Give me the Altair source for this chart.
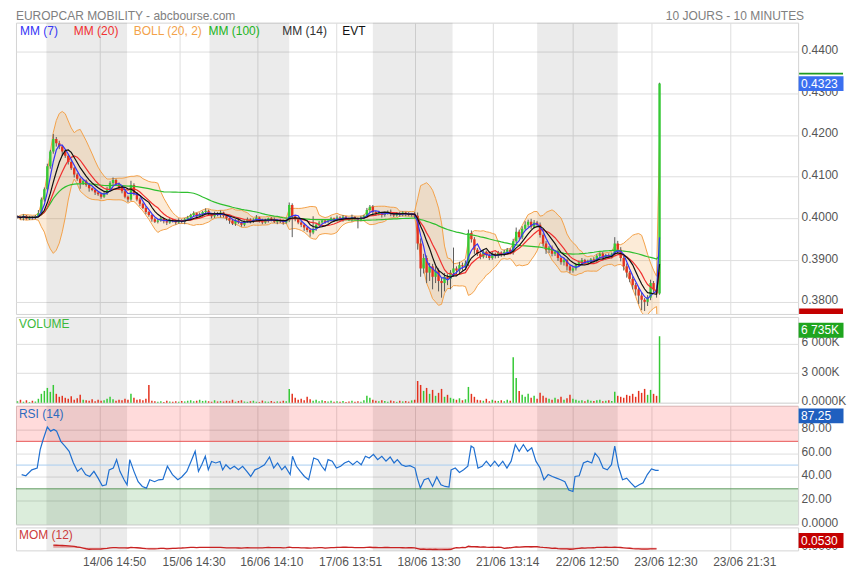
import json
import altair as alt
import pandas as pd

FONT = "Liberation Sans"

title_left = "EUROPCAR MOBILITY - abcbourse.com"
title_right = "10 JOURS - 10 MINUTES"
legend_items = ["MM (7)", "MM (20)", "BOLL (20, 2)", "MM (100)", "MM (14)", "EVT"]

# 10-minute closes (one candle every index step)
close = [
    0.4004, 0.4000, 0.4006, 0.3999, 0.4003, 0.4001, 0.4005, 0.4012,
    0.4045, 0.4070,
    0.4125, 0.4160, 0.4190, 0.4180, 0.4172, 0.4160,
    0.4150, 0.4135, 0.4120, 0.4105, 0.4095, 0.4085,
    0.4090, 0.4080, 0.4072, 0.4068, 0.4062,
    0.4058, 0.4052, 0.4060,
    0.4070, 0.4085, 0.4092, 0.4082, 0.4075,
    0.4065, 0.4052, 0.4045,
    0.4080,
    0.4060, 0.4045, 0.4035, 0.4025,
    0.4015, 0.4008, 0.3998, 0.3992,
    0.3995, 0.4000, 0.3993, 0.3990, 0.3997, 0.3994,
    0.3990, 0.3996, 0.3992, 0.3998, 0.4002,
    0.4008, 0.4012, 0.4005, 0.4010, 0.4015,
    0.4018, 0.4010, 0.4005, 0.4012, 0.4008, 0.4014, 0.4006,
    0.4000, 0.3995, 0.3988, 0.3995, 0.3990, 0.3985, 0.3992,
    0.3998, 0.3993, 0.3997, 0.4002, 0.3996, 0.3990, 0.3995, 0.4000, 0.3997, 0.3992, 0.3996, 0.3993, 0.3990, 0.3995,
    0.4032, 0.4005,
    0.3998, 0.3990, 0.3985, 0.3978, 0.3972, 0.3966, 0.3975,
    0.3985, 0.3990, 0.3995, 0.3992,
    0.3995, 0.4000, 0.3996, 0.4002, 0.3998, 0.4004, 0.4000, 0.3997, 0.4003, 0.4000, 0.3996, 0.4002, 0.4006,
    0.4020, 0.4028,
    0.4015, 0.4010, 0.4013, 0.4008, 0.4012, 0.4016, 0.4010, 0.4007, 0.4012, 0.4009, 0.4014, 0.4011, 0.4008, 0.4010, 0.4006,
    0.3940, 0.3880, 0.3905, 0.3870,
    0.3885, 0.3860, 0.3875, 0.3850, 0.3845, 0.3860, 0.3855,
    0.3870, 0.3880, 0.3875, 0.3888, 0.3885, 0.3892,
    0.3965, 0.3950, 0.3925,
    0.3915, 0.3908, 0.3920, 0.3912, 0.3905, 0.3915, 0.3910, 0.3918, 0.3912, 0.3920, 0.3925, 0.3918,
    0.3945, 0.3968, 0.3955,
    0.3975, 0.3985, 0.3992, 0.3980, 0.3990, 0.3985,
    0.3960, 0.3940, 0.3925,
    0.3930, 0.3915, 0.3920, 0.3905, 0.3895, 0.3900, 0.3885, 0.3875, 0.3880,
    0.3890, 0.3895, 0.3900, 0.3893, 0.3897, 0.3902, 0.3898,
    0.3910, 0.3915, 0.3905, 0.3912, 0.3908, 0.3915,
    0.3940, 0.3925,
    0.3905, 0.3885, 0.3870, 0.3855, 0.3840, 0.3830,
    0.3815, 0.3805, 0.3800, 0.3810,
    0.3845, 0.3830, 0.3820,
    0.4323,
]

# upper / lower wick lengths, in ticks of 0.0001
wick_up = [
    3, 2, 4, 2, 3, 2, 3, 8,
    5, 4,
    6, 4, 12, 5, 6, 4,
    5, 4, 6, 3, 4, 3,
    4, 3, 5, 2, 4,
    3, 4, 3,
    5, 4, 6, 3, 4,
    3, 4, 3,
    10,
    4, 3, 5, 3,
    4, 3, 2, 3,
    3, 4, 2, 3, 5, 2,
    3, 4, 2, 3, 4,
    3, 5, 2, 4, 3,
    6, 3, 2, 4, 3, 5, 2,
    3, 2, 4, 3, 5, 2, 3,
    4, 2, 3, 6, 2, 3, 4, 2, 3, 5, 2, 3, 4, 3,
    6, 4,
    3, 2, 4, 3, 2, 4, 30,
    3, 4, 2, 3,
    3, 4, 2, 5, 3, 4, 2, 3, 6, 2, 3, 4, 3,
    5, 4,
    4, 3, 5, 2, 4, 3, 5, 2, 3, 4, 3, 2, 4, 3, 5,
    8, 12, 10, 6,
    8, 6, 10, 5, 7, 9, 6,
    6, 50, 5, 8, 6, 7,
    8, 6, 5,
    4, 3, 5, 3, 4, 6, 3, 4, 3, 5, 4, 3,
    6, 10, 5,
    6, 8, 5, 7, 6, 4,
    5, 4, 6,
    4, 5, 3, 6, 4, 5, 3, 4, 5,
    3, 4, 5, 3, 4, 3, 5,
    4, 3, 5, 3, 4, 3,
    15, 6,
    6, 5, 7, 4, 6, 5,
    5, 7, 4, 6,
    8, 5, 4,
    2,
]
wick_dn = [
    4, 3, 5, 2, 3, 4, 3, 2,
    3, 5,
    4, 6, 5, 8, 6, 10,
    5, 6, 4, 7, 5, 14,
    5, 4, 8, 3, 6,
    4, 5, 3,
    4, 3, 5, 4, 6,
    5, 4, 6,
    3,
    5, 4, 6, 3,
    5, 4, 6, 3,
    4, 3, 5, 6, 3, 4,
    5, 3, 4, 6, 3,
    4, 3, 5, 3, 6,
    4, 3, 5, 4, 3, 6, 4,
    5, 8, 4, 6, 3, 5, 4,
    3, 5, 4, 3, 6, 4, 3, 5, 4, 3, 6, 4, 5, 3,
    4, 50,
    5, 4, 6, 8, 5, 10, 4,
    5, 3, 4, 5,
    4, 3, 5, 4, 3, 6, 4, 3, 5, 4, 20, 3, 4,
    3, 5,
    5, 4, 3, 6, 4, 3, 5, 4, 3, 5, 4, 6, 3, 4, 5,
    15, 20, 12, 25,
    20, 30, 15, 25, 35, 20, 15,
    25, 10, 12, 8, 10, 6,
    6, 8, 10,
    5, 6, 4, 7, 5, 4, 6, 5, 4, 3, 6, 4,
    5, 4, 6,
    5, 4, 6, 5, 4, 5,
    6, 8, 10,
    8, 6, 5, 7, 6, 8, 10, 6, 5,
    5, 4, 6, 4, 5, 3, 4,
    5, 4, 6, 4, 5, 4,
    4, 8,
    8, 10, 12, 8, 10, 15,
    20, 25, 22, 10,
    6, 8, 10,
    3,
]

# volume per candle, thousands of shares
volume_k = [
    150, 300, 100, 250, 80, 200, 120, 400,
    900, 1200,
    1500, 1100, 1800, 900, 600, 700,
    500, 400, 650, 300, 450, 800,
    300, 250, 200, 350, 150,
    300, 200, 250,
    400, 600, 350, 200, 300,
    250, 400, 300,
    900,
    500, 300, 350, 250,
    400, 1800, 200, 150,
    100, 150, 80, 200, 120, 90,
    150, 100, 180, 130, 200,
    250, 150, 200, 300, 180,
    220, 150, 100, 250, 130, 180, 120,
    200, 150, 300, 100, 180, 250, 120,
    90, 150, 200, 100, 80, 220, 130, 100, 180, 90, 140, 110, 200, 160,
    1400, 900,
    500, 300, 400, 250, 600, 350, 200,
    300, 150, 250, 180,
    120, 200, 90, 150, 100, 180, 80, 130, 200, 110, 150, 90, 250,
    700, 500,
    300, 200, 150, 250, 180, 100, 220, 150, 90, 200, 130, 170, 110, 240, 300,
    2200, 1800, 1200, 1500,
    900, 1300, 700, 1000, 1400, 600, 800,
    500, 400, 300, 450, 250, 350,
    1600, 900, 600,
    300, 250, 200, 400, 150, 300, 200, 180, 250, 150, 300, 200,
    4600, 2500, 1200,
    800, 600, 900, 500, 700, 400,
    1000, 700, 500,
    400, 300, 500, 350, 600, 300, 450, 800, 400,
    300, 200, 250, 150, 300, 200, 180,
    250, 300, 150, 200, 250, 180,
    1100, 700,
    600, 500, 800, 700, 900, 600,
    1200, 1000, 1400, 800,
    1300, 900, 700,
    6735,
]

# RSI (14): candle position and value
rsi_idx = [
    1.4, 2.8, 4.8, 6.6, 7.6, 8.6, 10.0, 11.1, 12.2, 13.1,
    14.5, 15.9, 17.3, 18.7, 20.1, 21.4, 22.8, 24.2, 25.6, 27.0,
    28.4, 29.7, 30.7, 32.1, 33.2, 34.3, 35.7, 36.7, 37.6, 39.0,
    40.4, 41.8, 43.2, 44.3, 45.9, 47.3, 48.7, 50.2, 51.9, 53.7,
    55.0, 56.7, 58.1, 59.5, 60.6, 61.7, 62.9, 63.9, 65.0, 66.4,
    67.8, 68.7, 69.8, 71.2, 72.6, 74.0, 75.4, 76.8, 78.1, 79.5,
    80.9, 82.7, 84.4, 85.8, 87.1, 88.5, 89.6, 91.3, 92.1, 93.4,
    94.7, 96.1, 97.5, 99.2, 100.6, 101.9, 103.0, 104.0, 105.4, 106.8,
    108.2, 109.5, 110.9, 112.3, 113.7, 115.1, 116.5, 117.8, 119.2, 120.6,
    122.0, 123.4, 124.8, 126.1, 127.2, 128.6, 130.0, 131.4, 133.1, 133.9,
    134.9, 136.2, 137.6, 139.0, 140.4, 141.8, 143.2, 144.5, 145.2, 146.6,
    148.0, 149.4, 150.8, 151.9, 152.8, 154.2, 155.6, 157.0, 158.4, 159.8,
    161.1, 162.5, 163.9, 165.3, 166.7, 168.0, 169.4, 170.8, 172.2, 173.6,
    175.0, 176.3, 177.7, 179.1, 180.5, 181.9, 183.3, 184.6, 186.0, 186.7,
    188.1, 189.5, 190.9, 192.3, 193.4, 194.7, 196.1, 197.5, 198.9, 200.0,
    201.2, 202.6, 204.0, 205.4, 206.8, 208.2, 209.5, 210.9, 212.3, 213.7,
    214.7,
]
rsi_val = [
    42, 41, 46, 47.5, 63, 71.5, 82, 78.6, 80, 78.6,
    70, 66, 61.6, 52, 44.7, 47.5, 42, 40.4, 44.7, 39,
    32.5, 33.4, 46, 47.5, 54.6, 44.7, 37.6, 33.4, 54.6, 44.7,
    36, 32, 30.6, 37.6, 36, 37.6, 38, 49, 42, 37.6,
    40, 44.7, 53, 61.6, 44.7, 50.3, 57.4, 46, 53, 51.8,
    53, 46, 50.3, 46.7, 49, 46, 49, 44.7, 40.4, 46,
    47.5, 50.3, 56.8, 47.5, 51.8, 46, 49, 42, 57.4, 49,
    44.7, 40.4, 37.6, 56, 54.6, 49, 45.5, 54.6, 53.3, 47.5,
    49, 51.8, 53.3, 50.3, 53.3, 50.3, 57.4, 56, 59, 54.6,
    57.4, 53.3, 56.8, 51.8, 54.6, 50.3, 49, 49.5, 47.5, 39,
    30.6, 37.6, 39, 32, 40, 33.4, 32, 31.4, 46, 47.5,
    43.8, 46, 49, 66, 64.5, 47.5, 49, 53.3, 49, 53.3,
    49, 53.3, 47.5, 53.3, 67.3, 61.6, 67.3, 61.6, 64.5, 53.3,
    47.5, 37.6, 42, 40.4, 39, 37.6, 36, 29, 27.7, 40.4,
    41, 51.8, 53.3, 51.8, 60, 56, 47.5, 46, 50.3, 66,
    49, 37.6, 39, 35, 31.4, 33.4, 35, 42, 46.7, 45.5,
    45.5,
]

# trading-day shading (candle positions) and time axis
day_start = [9.7, 64.3, 119.0, 174.0]
day_end = [36.7, 91.0, 145.7, 201.0]
tick_idx = [27.7, 54.3, 80.3, 106.7, 133.0, 159.3, 186.0, 212.3, 238.7]
tick_labels = ["14/06 14:50", "15/06 14:30", "16/06 14:10", "17/06 13:51", "18/06 13:30",
               "21/06 13:14", "22/06 12:50", "23/06 12:30", "23/06 21:31"]
price_ticks = [0.38, 0.39, 0.40, 0.41, 0.42, 0.43, 0.44]
vol_ticks = [0, 3000, 6000]
rsi_ticks = [0, 20, 40, 60, 80]
last_price = 0.4323
last_volume = 6735
last_rsi = 87.25
last_mom = 0.0530

# ---------------------------------------------------------------- tables
N = len(close)
opens = [close[0]] + close[:-1]
highs = [round(max(o, c) + u / 10000, 5) for o, c, u in zip(opens, close, wick_up)]
lows = [round(min(o, c) - d / 10000, 5) for o, c, d in zip(opens, close, wick_dn)]
df = pd.DataFrame({
    "i": list(range(N)), "open": opens, "close": close, "high": highs, "low": lows,
    "vol": volume_k, "dir": ["up" if c >= o else "down" for o, c in zip(opens, close)],
})
rsi_df = pd.DataFrame({"ri": rsi_idx, "rv": rsi_val})
bands_df = pd.DataFrame({"start": day_start, "end": day_end})
one = pd.DataFrame({"k": [0]})

W = 784
H_P, H_V, H_R, H_M = 292, 86, 119, 23
GREEN, RED = "#36c936", "#e4321e"
GRID = "#dedede"
LBL = "#555555"

XS = alt.Scale(domain=[-0.5, 261.4], nice=False, zero=False, padding=0)
LABEL_EXPR = f"{json.dumps(tick_labels)}[indexof({json.dumps(tick_idx)}, datum.value)]"


def xax(show):
    return alt.Axis(values=tick_idx, labels=show, ticks=False, domain=False, grid=True,
                    gridColor=GRID, title=None, labelExpr=LABEL_EXPR, labelOffset=14,
                    labelPadding=6, labelFont=FONT, labelFontSize=12, labelColor=LBL)


def X(field, show=False):
    return alt.X(field, type="quantitative", scale=XS, axis=xax(show))


def yax(values, fmt=None, expr=None, grid=True):
    kw = dict(orient="right", values=values, grid=grid, gridColor=GRID, domain=False, ticks=False,
              labelPadding=3, labelOffset=-2, labelFont=FONT, labelFontSize=12, labelColor=LBL,
              title=None)
    if fmt:
        kw["format"] = fmt
    if expr:
        kw["labelExpr"] = expr
    return alt.Axis(**kw)


PS = alt.Scale(domain=[0.3771, 0.4469], nice=False, zero=False, padding=0)
PAX = yax(price_ticks, fmt=".4f")
VS = alt.Scale(domain=[0, 8690], nice=False, zero=False, padding=0)
VAX = yax(vol_ticks, expr="datum.value == 0 ? '0.0000K' : replace(format(datum.value, ','), ',', ' ') + 'K'")
RS = alt.Scale(domain=[0, 100], nice=False, zero=False, padding=0)
RAX = yax(rsi_ticks, expr="datum.value == 0 ? '0.0000' : format(datum.value, '.2f')")
MS = alt.Scale(domain=[-0.02, 0.15], nice=False, zero=False, padding=0)
MAX = yax([0], fmt=".4f", grid=False)


def Yf(field, scale, axis):
    return alt.Y(field, type="quantitative", scale=scale, axis=axis)


def Yd(v, scale, axis):
    return alt.YDatum(v, type="quantitative", scale=scale, axis=axis)


def bands(show=False):
    return alt.Chart(bands_df).mark_rect(color="#000000", opacity=0.08).encode(
        x=X("start", show), x2="end")


def label(txt, x, y, color, align="left", size=12):
    return alt.Chart(one).mark_text(text=txt, align=align, baseline="middle", font=FONT,
                                    fontSize=size, color=color).encode(
        x=alt.value(x), y=alt.value(y))


BADGE_PATH = "M-1,-0.33L1,-0.33L1,0.33L-1,0.33Z"


def badge(yenc, txt, color, dy=0):
    box = alt.Chart(one).mark_point(shape=BADGE_PATH, size=45 * 45, filled=True, opacity=1,
                                    color=color, strokeWidth=0, yOffset=dy).encode(
        x=alt.value(W + 23), y=yenc)
    t = alt.Chart(one).mark_text(text=txt, align="left", baseline="middle", font=FONT,
                                 fontSize=12, color="white", yOffset=dy).encode(
        x=alt.value(W + 3), y=yenc)
    return [box, t]


# ---------------------------------------------------------------- price panel
srt = [{"field": "i"}]
base = (alt.Chart(df)
        .transform_window(mm7="mean(close)", frame=[-3, 0], sort=srt)
        .transform_window(mm20="mean(close)", frame=[-9, 0], sort=srt)
        .transform_window(mm14="mean(close)", frame=[-6, 0], sort=srt)
        .transform_window(mm100="mean(close)", frame=[-49, 0], sort=srt)
        .transform_window(bm="mean(close)", bs="stdev(close)", frame=[-9, 0], sort=srt)
        .transform_calculate(bhi="datum.bm + 2 * (isValid(datum.bs) ? datum.bs : 0)",
                             blo="datum.bm - 2 * (isValid(datum.bs) ? datum.bs : 0)"))

boll_area = base.mark_area(color="#f3a24a", opacity=0.22, clip=True).encode(
    x=X("i"), y=Yf("blo", PS, PAX), y2="bhi")
boll_lines = base.transform_fold(["bhi", "blo"], as_=["edge", "val"]).mark_line(
    color="#f3a24a", strokeWidth=1, clip=True).encode(
    x=X("i"), y=Yf("val:Q", PS, PAX), detail="edge:N")
wicks = alt.Chart(df).mark_rule(color="#5a5a5a", strokeWidth=1, clip=True).encode(
    x=X("i"), y=Yf("low", PS, PAX), y2="high")
bodies = alt.Chart(df).mark_bar(size=2.4, clip=True).encode(
    x=X("i"), y=Yf("open", PS, PAX), y2="close",
    color=alt.Color("dir:N", scale=alt.Scale(domain=["up", "down"], range=[GREEN, RED]), legend=None))


def ma(field, color):
    return base.mark_line(color=color, strokeWidth=1.2, clip=True).encode(
        x=X("i"), y=Yf(field, PS, PAX))


legend_colors = ["#3535f5", "#f03030", "#f3a24a", "#22b422", "#333333", "#111111"]
legend_x = [4, 58, 118, 193, 267, 327]

price_layers = [bands(), boll_area, boll_lines, wicks, bodies,
                ma("mm100", "#2fbf2f"), ma("mm20", "#f03030"), ma("mm7", "#3535f5"), ma("mm14", "#111111")]
price_layers += [label(t, x, 8, c) for t, x, c in zip(legend_items, legend_x, legend_colors)]
price_layers += [label(title_left, 0, -7, "#808080"), label(title_right, W + 6, -7, "#808080", align="right")]
price_layers += [
    alt.Chart(one).mark_rect(color="#1f9a1f").encode(
        x=alt.value(W + 1), x2=alt.value(W + 45), y=Yd(0.4349, PS, PAX), y2=alt.Y2Datum(0.4345)),
    alt.Chart(one).mark_rect(color="#c40000").encode(
        x=alt.value(W + 1), x2=alt.value(W + 45), y=Yd(0.3784, PS, PAX), y2=alt.Y2Datum(0.3771)),
]
price_layers += badge(Yd(last_price, PS, PAX), f"{last_price:.4f}", "#3a6ff0")
price = alt.layer(*price_layers).properties(width=W, height=H_P)

# ---------------------------------------------------------------- volume panel
vol_bars = alt.Chart(df).mark_bar(size=1.5).encode(
    x=X("i"), y=Yf("vol", VS, VAX),
    color=alt.Color("dir:N", scale=alt.Scale(domain=["up", "down"], range=[GREEN, RED]), legend=None))
vol_layers = [bands(), vol_bars, label("VOLUME", 3, 7, "#3cb93c")]
vol_layers += badge(Yd(last_volume, VS, VAX), "6 735K", "#1fa51f", dy=-6)
volume = alt.layer(*vol_layers).properties(width=W, height=H_V)

# ---------------------------------------------------------------- RSI panel
rsi_layers = [
    bands(),
    alt.Chart(one).mark_rect(color="#ff0000", opacity=0.14).encode(
        y=Yd(70, RS, RAX), y2=alt.Y2Datum(100)),
    alt.Chart(one).mark_rect(color="#008000", opacity=0.14).encode(
        y=Yd(0, RS, RAX), y2=alt.Y2Datum(30)),
    alt.Chart(one).mark_rule(color="#e85555", strokeWidth=1).encode(y=Yd(70, RS, RAX)),
    alt.Chart(one).mark_rule(color="#a8cdf0", strokeWidth=1).encode(y=Yd(50, RS, RAX)),
    alt.Chart(one).mark_rule(color="#5f9a5f", strokeWidth=1).encode(y=Yd(30, RS, RAX)),
    alt.Chart(rsi_df).mark_line(color="#1f6fd0", strokeWidth=1.2).encode(
        x=X("ri"), y=Yf("rv", RS, RAX)),
    label("RSI (14)", 3, 8, "#2d6bbf"),
]
rsi_layers += badge(Yd(last_rsi, RS, RAX), f"{last_rsi:.2f}", "#1f5fbf", dy=-5)
rsi = alt.layer(*rsi_layers).properties(width=W, height=H_R)

# ---------------------------------------------------------------- MOM panel
mom_base = (alt.Chart(df)
            .transform_window(window=[{"op": "lag", "field": "close", "param": 12, "as": "c12"}], sort=srt)
            .transform_filter(f"isValid(datum.c12) && datum.i < {N - 1}")
            .transform_calculate(mom="datum.close - datum.c12"))
mom_layers = [
    bands(True),
    mom_base.mark_area(color="#d24040", opacity=0.45, clip=True).encode(
        x=X("i", True), y=Yf("mom:Q", MS, MAX), y2=alt.Y2Datum(0)),
    mom_base.mark_line(color="#c82222", strokeWidth=1.3, clip=True).encode(
        x=X("i", True), y=Yf("mom:Q", MS, MAX)),
    label("MOM (12)", 3, 8, "#cc3c3c"),
]
mom_layers += badge(Yd(last_mom, MS, MAX), f"{last_mom:.4f}", "#c40000")
mom = alt.layer(*mom_layers).properties(width=W, height=H_M)

chart = (alt.vconcat(price, volume, rsi, mom, spacing=3, bounds="flush")
         .properties(padding={"left": 7, "top": 0, "right": 0, "bottom": 0}, background="white")
         .configure_view(stroke="#d4d4d4", strokeWidth=1))

chart.save("out.html", embed_options={"renderer": "svg", "actions": False})
